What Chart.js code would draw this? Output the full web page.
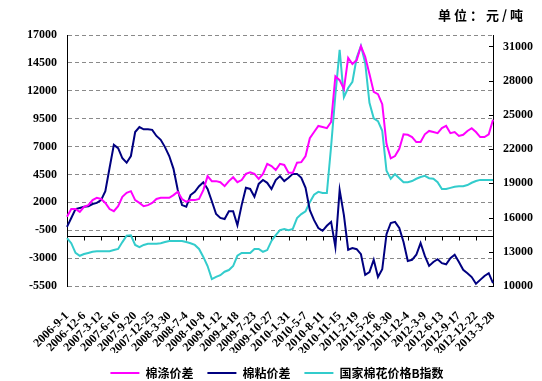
<!DOCTYPE html>
<html>
<head>
<meta charset="utf-8">
<script src="https://cdn.jsdelivr.net/npm/chart.js@4.4.0/dist/chart.umd.min.js"></script>
<style>
  html, body { margin: 0; padding: 0; background: #fff; }
  #wrap { width: 542px; height: 381px; }
</style>
</head>
<body>
<div id="wrap"><canvas id="chart"></canvas></div>
<script>
// date shown under every 4th point (one point per ~24 days)
var tickLabels = ['2006-9-1', '2006-12-6', '2007-3-12', '2007-6-16', '2007-9-20', '2007-12-25',
  '2008-3-30', '2008-7-4', '2008-10-8', '2009-1-12', '2009-4-18', '2009-7-23', '2009-10-27',
  '2010-1-31', '2010-5-7', '2010-8-11', '2010-11-15', '2011-2-19', '2011-5-26', '2011-8-30',
  '2011-12-4', '2012-3-9', '2012-6-13', '2012-9-17', '2012-12-22', '2013-3-28'];
var perTick = 4;

var leftTicks = [-5500, -3000, -500, 2000, 4500, 7000, 9500, 12000, 14500, 17000];
var rightTicks = [10000, 13000, 16000, 19000, 22000, 25000, 28000, 31000];

// 棉涤价差 (left axis)
var mianDi = [700, 1400, 1400, 1150, 1600, 1750, 2200, 2400, 2300, 1950,
  1400, 1200, 1650, 2500, 2850, 3000, 2200, 1950, 1650, 1750,
  1950, 2300, 2400, 2400, 2400, 2650, 2950, 2300, 2050, 2200,
  2200, 2300, 3100, 4350, 3900, 3900, 3800, 3450, 3900, 4250,
  3800, 4000, 4550, 4700, 4550, 4100, 4550, 5450, 5250, 4900,
  5450, 5350, 4650, 4650, 5550, 5600, 6150, 7750, 8300, 8850,
  8750, 8650, 9200, 13300, 12950, 12150, 14950, 14400, 14750, 16000,
  15050, 13500, 11900, 11700, 10800, 7250, 5950, 6150, 6800, 8100,
  8050, 7850, 7400, 7400, 8100, 8400, 8300, 8200, 8650, 8850,
  8200, 8300, 7950, 8050, 8400, 8650, 8300, 7850, 7850, 8100,
  9400];

// 棉粘价差 (left axis)
var mianNian = [-200, 600, 1400, 1500, 1600, 1650, 1850, 1950, 2200, 3000,
  5100, 7150, 6850, 5950, 5550, 6150, 8300, 8750, 8550, 8550,
  8500, 7950, 7600, 6950, 6150, 5000, 3100, 1750, 1600, 2650,
  2950, 3450, 3800, 3200, 2100, 950, 600, 500, 1200, 1200,
  -50, 1750, 3300, 3200, 2500, 3650, 4000, 3750, 3200, 4000,
  4350, 3900, 4200, 4550, 4550, 4200, 3300, 1300, 400, -300,
  -550, -100, 250, -2000, 3100, 850, -2250, -2100, -2200, -2650,
  -4500, -4250, -3150, -4700, -4000, -850, 150, 250, -300, -1550,
  -3250, -3150, -2700, -1650, -2800, -3700, -3350, -3100, -3450, -3550,
  -3000, -2700, -3350, -4050, -4350, -4700, -5300, -4950, -4600, -4350,
  -5250];

// 国家棉花价格B指数 (right axis)
var indexB = [14200, 13750, 12900, 12650, 12800, 12900, 13000, 13050, 13050, 13050,
  13050, 13150, 13250, 13850, 14400, 14450, 13600, 13400, 13600, 13700,
  13700, 13700, 13750, 13850, 13950, 13950, 13950, 13950, 13850, 13750,
  13600, 13250, 12550, 11750, 10600, 10800, 10950, 11250, 11400, 11750,
  12650, 12900, 12900, 12900, 13250, 13250, 13000, 13150, 13950, 14450,
  14900, 15000, 14900, 15000, 15950, 16300, 16550, 17350, 18000, 18250,
  18150, 18150, 22250, 26750, 30700, 26550, 27350, 27900, 30000, 31050,
  29550, 26050, 24700, 24450, 23600, 20100, 19400, 19800, 19450, 19100,
  19100, 19200, 19400, 19550, 19650, 19450, 19400, 19100, 18500, 18500,
  18600, 18700, 18750, 18750, 18850, 19050, 19200, 19300, 19300, 19300,
  19300];

var labels = mianDi.map(function (v, i) {
  return i % perTick === 0 ? tickLabels[i / perTick] : '';
});

var unitText = '单位：元/吨';

var numFont = { family: 'Liberation Serif', size: 12, weight: 'bold' };
var cjkFont = { family: 'Noto Sans CJK SC', size: 12, weight: 'bold' };

function plain(v) { return String(v); }

// horizontal axis line crosses the left axis at -1000, ticks hang below it
var crossAxis = {
  id: 'crossAxis',
  beforeDatasetsDraw: function (chart) {
    var ctx = chart.ctx, a = chart.chartArea;
    var x = chart.scales.x, y = chart.scales.y, y2 = chart.scales.y2;
    var yy = Math.round(y.getPixelForValue(-1000)) + 0.5;
    ctx.save();
    ctx.strokeStyle = '#000';
    ctx.lineWidth = 1;
    ctx.beginPath();
    ctx.moveTo(a.left, yy);
    ctx.lineTo(a.right, yy);
    for (var i = 0; i < labels.length; i += perTick) {
      var px = Math.round(x.getPixelForValue(i)) + 0.5;
      ctx.moveTo(px, yy);
      ctx.lineTo(px, yy + 4);
    }
    rightTicks.forEach(function (v) {
      var py = Math.round(y2.getPixelForValue(v)) + 0.5;
      ctx.moveTo(a.right - 4, py);
      ctx.lineTo(a.right, py);
    });
    ctx.stroke();
    ctx.restore();
  },
  afterDraw: function (chart) {
    var ctx = chart.ctx;
    ctx.save();
    ctx.font = 'bold 13px "Noto Sans CJK SC"';
    ctx.letterSpacing = '3px';
    ctx.fillStyle = '#000';
    ctx.textAlign = 'right';
    ctx.textBaseline = 'middle';
    ctx.fillText(unitText, chart.width - 16, 15);
    ctx.restore();
  }
};

var chart = new Chart(document.getElementById('chart'), {
  type: 'line',
  data: {
    labels: labels,
    datasets: [
      {
        label: '棉涤价差',
        data: mianDi,
        borderColor: '#FF00FF',
        backgroundColor: '#FF00FF',
        borderWidth: 2,
        pointRadius: 0,
        yAxisID: 'y',
      },
      {
        label: '棉粘价差',
        data: mianNian,
        borderColor: '#000080',
        backgroundColor: '#000080',
        borderWidth: 2,
        pointRadius: 0,
        yAxisID: 'y',
      },
      {
        label: '国家棉花价格B指数',
        data: indexB,
        borderColor: '#33CCCC',
        backgroundColor: '#33CCCC',
        borderWidth: 2,
        pointRadius: 0,
        yAxisID: 'y2',
      },
    ],
  },
  options: {
    responsive: true,
    maintainAspectRatio: false,
    animation: false,
    layout: { padding: { left: 12, right: 0, top: 35, bottom: -8 } },
    plugins: {
      title: { display: false },
      legend: {
        position: 'bottom',
        labels: {
          usePointStyle: true,
          pointStyle: 'line',
          pointStyleWidth: 29,
          padding: 14,
          color: '#000',
          font: cjkFont,
        },
      },
      tooltip: { enabled: false },
    },
    scales: {
      x: {
        type: 'category',
        offset: false,
        grid: { display: false },
        border: { display: false },
        ticks: {
          autoSkip: false,
          maxRotation: 45,
          minRotation: 45,
          padding: 15,
          color: '#000',
          font: numFont,
          callback: function (v) {
            var l = this.getLabelForValue(v);
            return l ? l : null;
          },
        },
        afterFit: function (s) { s.height = 67; },
      },
      y: {
        position: 'left',
        min: -5500,
        max: 17000,
        afterBuildTicks: function (s) {
          s.ticks = leftTicks.map(function (v) { return { value: v }; });
        },
        grid: { color: '#8a8a8a', drawTicks: false },
        border: { display: true, color: '#000', width: 1, dash: [4, 3] },
        ticks: { padding: 10, color: '#000', font: numFont, callback: plain },
        afterFit: function (s) { s.width = 55; },
      },
      y2: {
        position: 'right',
        min: 10000,
        max: 32000,
        afterBuildTicks: function (s) {
          s.ticks = rightTicks.map(function (v) { return { value: v }; });
        },
        grid: { display: false, drawTicks: false },
        border: { display: true, color: '#000', width: 1 },
        ticks: { padding: 10, color: '#000', font: numFont, callback: plain },
        afterFit: function (s) { s.width = 49; },
      },
    },
  },
  plugins: [crossAxis],
});
</script>
</body>
</html>
